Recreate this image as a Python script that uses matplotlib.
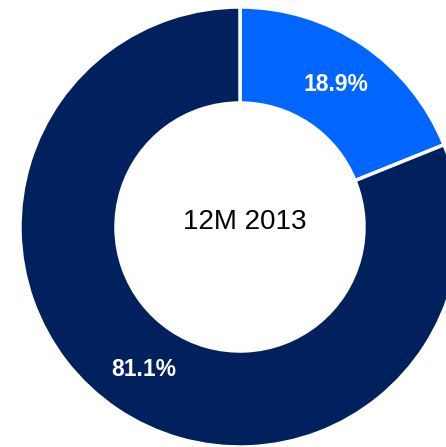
import matplotlib.pyplot as plt

labels = ["Segment A", "Segment B"]
shares = [18.9, 81.1]
colors = ["#0066FF", "#00215E"]
center_title = "12M 2013"

fig = plt.figure(figsize=(4.46, 4.47), dpi=100)
ax = fig.add_axes([0, 0, 1, 1])

# axes in pixel units so the ring lands where the original sits
wedges, texts, autotexts = ax.pie(
    shares, colors=colors, startangle=90, counterclock=False,
    center=(240, 220), radius=220, frame=True,
    autopct="%.1f%%", pctdistance=0.78,
    wedgeprops=dict(width=96, edgecolor="white", linewidth=2.5),
    textprops=dict(color="white", fontsize=16.5, fontweight="bold",
                   family="Liberation Sans"),
)
ax.set_xlim(0, 446)
ax.set_ylim(0, 447)
ax.set_aspect("equal")
ax.axis("off")

ax.text(245, 225, center_title, ha="center", va="center", fontsize=20,
        color="black", family="Liberation Sans")

plt.savefig("out.png", dpi=100)
